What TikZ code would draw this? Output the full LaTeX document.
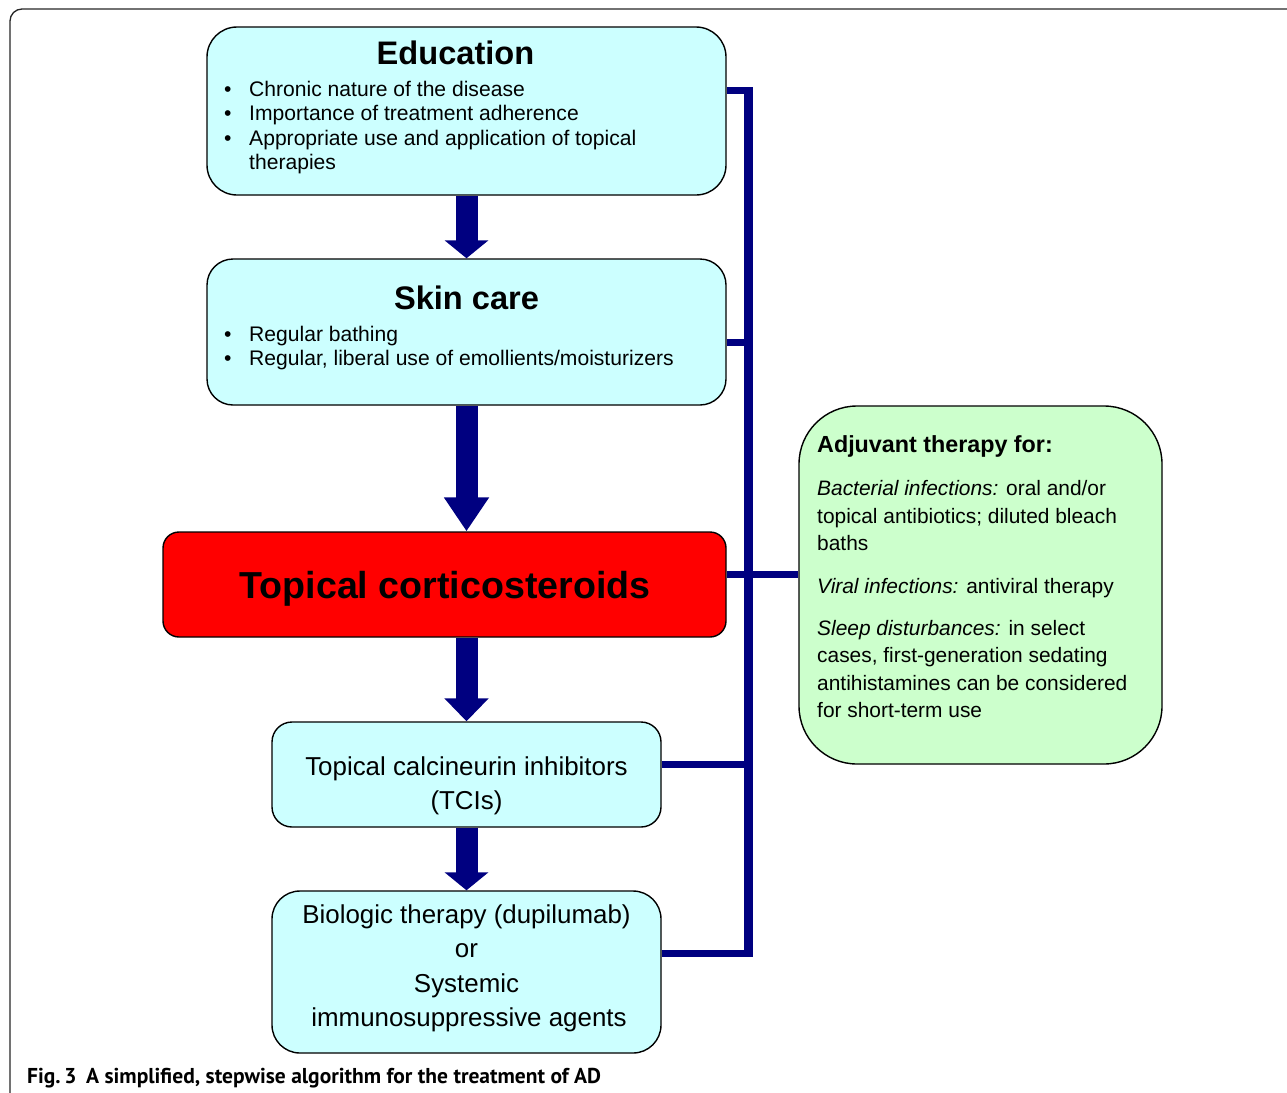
\documentclass[tikz,border=0pt]{standalone}
\usepackage{fontspec}
\setmainfont{Liberation Sans}
\newfontfamily\capfont{PT Sans}
\usetikzlibrary{arrows.meta}
\definecolor{boxcyan}{HTML}{CCFFFF}
\definecolor{boxgreen}{HTML}{CCFFCC}
\definecolor{boxred}{HTML}{FF0000}
\definecolor{navyline}{HTML}{000080}
\begin{document}
\begin{tikzpicture}[x=1pt,y=-1pt,
  cbox/.style={draw=black, line width=1.4pt, fill=boxcyan, inner sep=0pt},
  ttl/.style={anchor=base, inner sep=0pt, font=\bfseries\fontsize{32.6}{36}\selectfont},
  body/.style={anchor=base west, inner sep=0pt, font=\fontsize{21.1}{24}\selectfont},
  cbody/.style={anchor=base, inner sep=0pt, font=\fontsize{25.9}{30}\selectfont},
  gbody/.style={anchor=base west, inner sep=0pt, font=\fontsize{20.9}{24}\selectfont},
  bigarrow/.style={draw=navyline, line width=22pt, -{Triangle[width=43pt,length=#1]}},
  conn/.style={draw=navyline, line width=7pt},
]
\useasboundingbox (0,0) rectangle (1287,1092);
% outer frame
\draw[line width=1.3pt, draw=black!85, rounded corners=12pt] (10,9) rectangle (1320,1120);

% boxes
\node[cbox, rounded corners=30pt, minimum width=519pt, minimum height=168pt] (edu) at (466.5,111) {};
\node[cbox, rounded corners=26pt, minimum width=519pt, minimum height=146pt] (skin) at (466.5,332) {};
\node[draw=black, line width=1.4pt, fill=boxred, rounded corners=16pt, inner sep=0pt, minimum width=563pt, minimum height=105pt] (tcs) at (444.5,584.5) {};
\node[cbox, rounded corners=20pt, minimum width=389pt, minimum height=105pt] (tci) at (466.5,774.5) {};
\node[cbox, rounded corners=28pt, minimum width=389pt, minimum height=162pt] (bio) at (466.5,972) {};
\node[draw=black, line width=1.4pt, fill=boxgreen, rounded corners=58pt, inner sep=0pt, minimum width=363pt, minimum height=358pt] (adj) at (980.5,585) {};

% vertical bar and connectors
\coordinate (bartop) at (748,87);
\coordinate (barbot) at (748,957);
\coordinate (j1) at (748,90);
\coordinate (j2) at (748,342);
\coordinate (j3) at (748,574.5);
\coordinate (j4) at (748,764);
\coordinate (j5) at (748,953.5);
\draw[draw=navyline, line width=9pt] (bartop) -- (barbot);
\draw[conn] (edu.east |- j1) -- (j1);
\draw[conn] (skin.east |- j2) -- (j2);
\draw[conn] (tcs.east |- j3) -- (j3 -| adj.west);
\draw[conn] (tci.east |- j4) -- (j4);
\draw[conn] (bio.east |- j5) -- (j5);

% thick arrows
\draw[bigarrow=18pt] (edu.south) -- (skin.north);
\draw[bigarrow=34pt] (skin.south) -- (skin.south |- tcs.north);
\draw[bigarrow=23pt] (tci.north |- tcs.south) -- (tci.north);
\draw[bigarrow=18pt] (tci.south) -- (bio.north);

% education text
\node[ttl] (eduT) at (455.5,64) {Education};
\node[body] (eb1) at (224,96) {•};
\node[body] (e1) at (249,96) {Chronic nature of the disease};
\node[body] (eb2) at (224,120.5) {•};
\node[body] (e2) at (249,120.5) {Importance of treatment adherence};
\node[body] (eb3) at (224,145) {•};
\node[body] (e3) at (249,145) {Appropriate use and application of topical};
\node[body] (e4) at (249,169) {therapies};

% skin care text
\node[ttl] (skinT) at (466.5,309) {Skin care};
\node[body] (sb1) at (224,341) {•};
\node[body] (s1) at (249,341) {Regular bathing};
\node[body] (sb2) at (224,365.5) {•};
\node[body] (s2) at (249,365.5) {Regular, liberal use of emollients/moisturizers};

% topical corticosteroids
\node[anchor=base, inner sep=0pt, font=\bfseries\fontsize{37.6}{42}\selectfont] (tcsT) at (445,598) {Topical corticosteroids};

% TCI
\node[cbody] (t1) at (466.5,775) {Topical calcineurin inhibitors};
\node[cbody] (t2) at (466.5,809) {(TCIs)};

% biologic
\node[cbody] (b1) at (466.5,923) {Biologic therapy (dupilumab)};
\node[cbody] (b2) at (466.5,957) {or};
\node[cbody] (b3) at (466.5,992) {Systemic};
\node[cbody] (b4) at (469,1026) {immunosuppressive agents};

% adjuvant text
\node[anchor=base west, inner sep=0pt, font=\bfseries\fontsize{23.3}{26}\selectfont] (aT) at (817,452) {Adjuvant therapy for:};
\node[gbody] (a1) at (817,495) {{\itshape Bacterial infections:} oral and/or};
\node[gbody] (a2) at (817,523) {topical antibiotics; diluted bleach};
\node[gbody] (a3) at (817,550.5) {baths};
\node[gbody] (a4) at (817,593) {{\itshape Viral infections:} antiviral therapy};
\node[gbody] (a5) at (817,635) {{\itshape Sleep disturbances:} in select};
\node[gbody] (a6) at (817,662.5) {cases, first-generation sedating};
\node[gbody] (a7) at (817,690) {antihistamines can be considered};
\node[gbody] (a8) at (817,717.5) {for short-term use};

% caption
\node[anchor=base west, inner sep=0pt, font=\capfont\bfseries\fontsize{21.5}{24}\selectfont] (cap) at (27,1083) {Fig.\,3\hspace{0.45em}A simplified, stepwise algorithm for the treatment of AD};
\end{tikzpicture}
\end{document}
